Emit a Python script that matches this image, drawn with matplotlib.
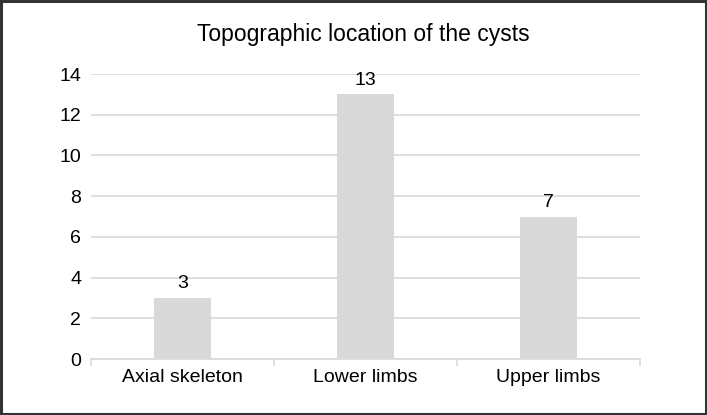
import matplotlib
matplotlib.use("Agg")
import matplotlib.pyplot as plt
from matplotlib.patches import Rectangle

categories = ["Axial skeleton", "Lower limbs", "Upper limbs"]
values = [3, 13, 7]
yticks = [0, 2, 4, 6, 8, 10, 12, 14]
title = "Topographic location of the cysts"

plt.rcParams['font.family'] = ['Liberation Sans', 'DejaVu Sans']

fig = plt.figure(figsize=(7.07, 4.15), dpi=100)
ax = fig.add_axes([91/707, 1-359/415, (640-91)/707, (359-74)/415])

x = list(range(len(categories)))
bars = ax.bar(x, values, width=0.31, color="#d9d9d9", zorder=2)
for xi, v in zip(x, values):
    ax.annotate(str(v), (xi, v), xytext=(0, 4), textcoords="offset points",
                ha="center", va="bottom", fontsize=14, color="#000000")

ax.set_xlim(-0.5, len(categories) - 0.5)
ax.set_ylim(0, 14)
ax.set_yticks(yticks)
ax.set_yticklabels([str(t) for t in yticks], fontsize=14)
ax.yaxis.grid(True, color="#d9d9d9", linewidth=1.2, zorder=0)
ax.set_axisbelow(True)
ax.tick_params(axis="y", length=0, pad=7)

ax.set_xticks([i - 0.5 for i in range(len(categories) + 1)], minor=False)
ax.set_xticklabels([""] * (len(categories) + 1))
ax.tick_params(axis="x", which="major", length=5, color="#d9d9d9", width=1.2, direction="out")
ax.set_xticks(x, minor=True)
ax.set_xticklabels(categories, minor=True, fontsize=14)
ax.tick_params(axis="x", which="minor", length=0, pad=7)

for s in ["top", "right", "left"]:
    ax.spines[s].set_visible(False)
ax.spines["bottom"].set_color("#d9d9d9")
ax.spines["bottom"].set_linewidth(1.2)

fig.text(363/707, 1-35/415, title, ha="center", va="center", fontsize=16.5)

fig.patches.append(Rectangle((0.001, 0.002), 0.997, 0.995, transform=fig.transFigure,
                             fill=False, edgecolor="#333333", linewidth=2.2))

fig.savefig("out.png", dpi=100)
